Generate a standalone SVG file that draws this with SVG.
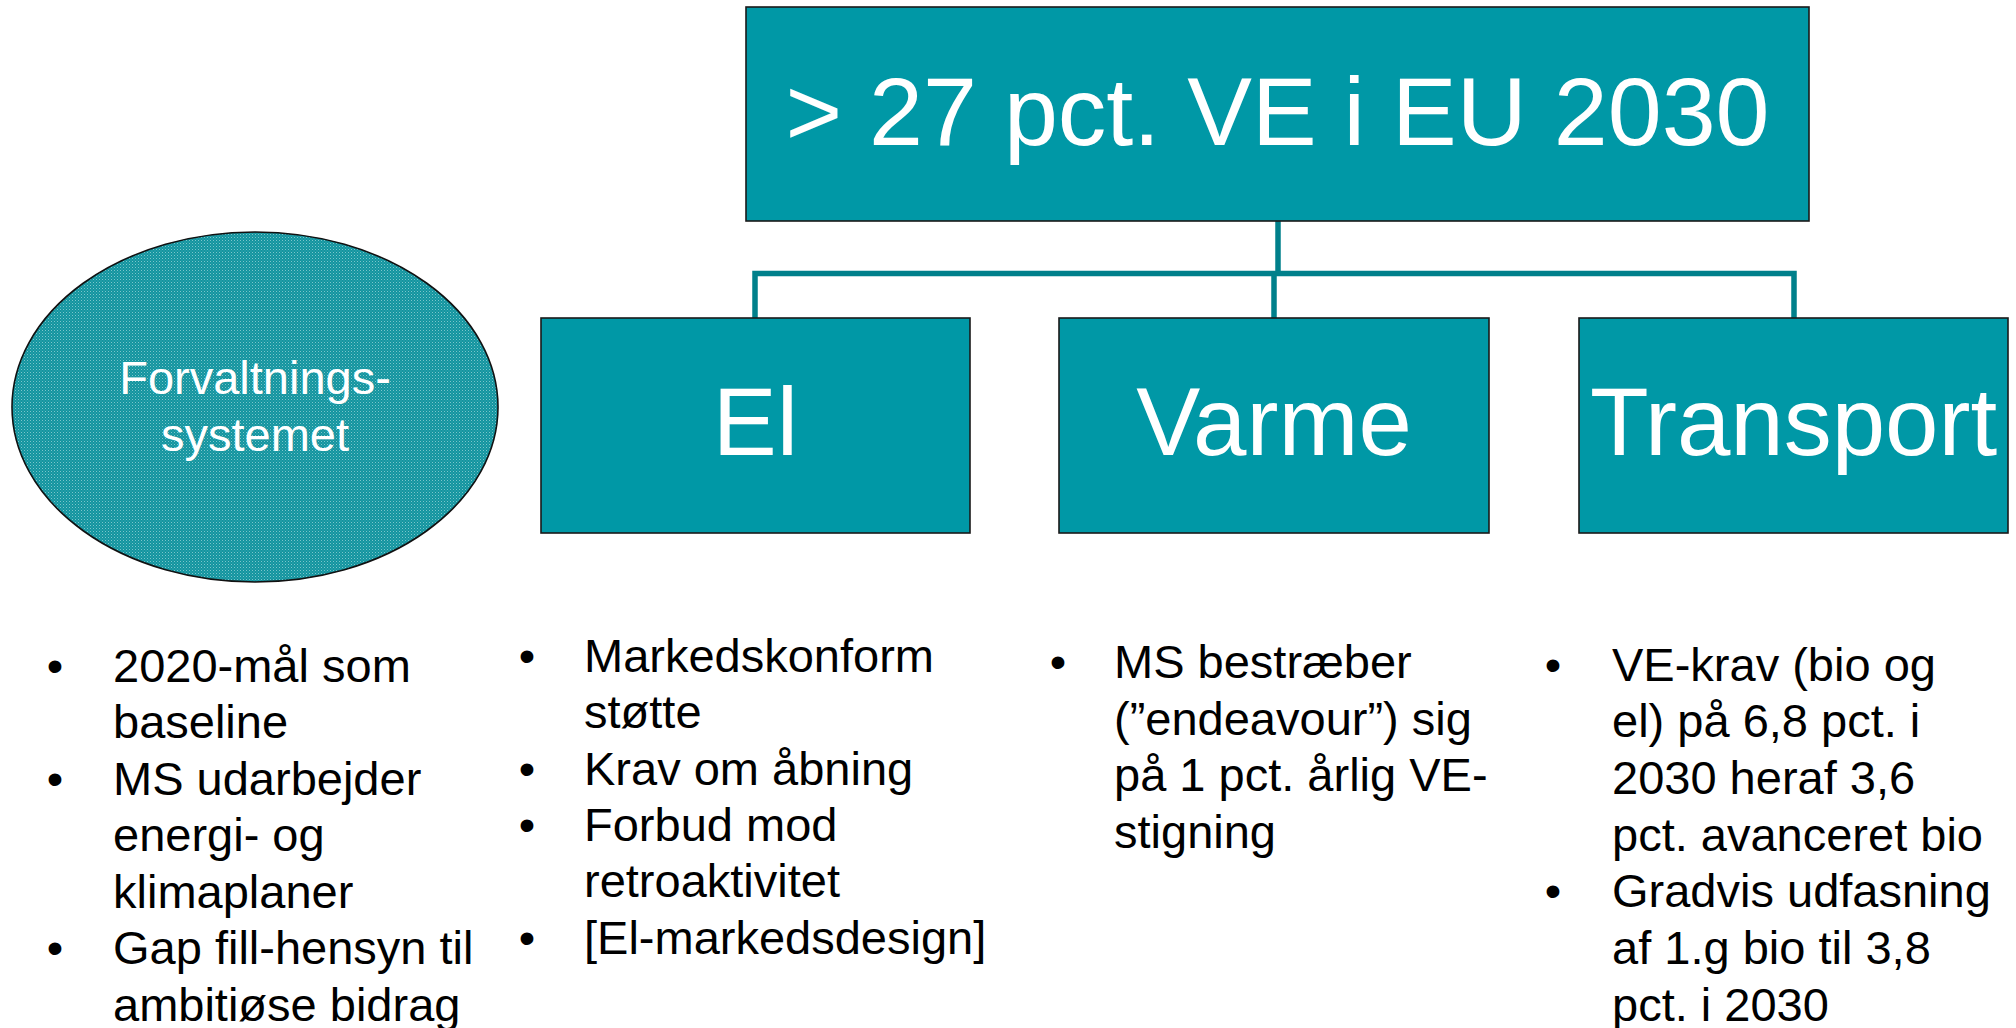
<svg xmlns="http://www.w3.org/2000/svg" width="2016" height="1028" viewBox="0 0 2016 1028">
<defs>
<pattern id="dots" width="3" height="3" patternUnits="userSpaceOnUse">
<rect width="3" height="3" fill="#12949f"/>
<rect x="0" y="0" width="1" height="1" fill="#7cc6cb"/>
<rect x="1.5" y="1.5" width="1" height="1" fill="#4cb0b8"/>
</pattern>
</defs>
<style>
.box{fill:#0098a6;stroke:#1a1a1a;stroke-width:1.6}
.conn{fill:none;stroke:#00808b;stroke-width:5.5}
.big{font-family:"Liberation Sans",Arial,sans-serif;fill:#ffffff;text-anchor:middle}
.bul{font-family:"Liberation Sans",Arial,sans-serif;font-size:47px;fill:#000000}
.dot{text-anchor:middle}
</style>
<rect width="2016" height="1028" fill="#ffffff"/>
<g id="connectors">
<path class="conn" d="M1278 221 V273.5"/>
<path class="conn" d="M755 318 V273.5 H1794 V318"/>
<path class="conn" d="M1274 273.5 V318"/>
</g>
<g id="root">
<rect class="box" x="746" y="7" width="1063" height="214"/>
<text class="big" x="1277.5" y="145" font-size="97">&gt; 27 pct. VE i EU 2030</text>
</g>
<g id="el">
<rect class="box" x="541" y="318" width="429" height="215"/>
<text class="big" x="755.5" y="455" font-size="96">El</text>
</g>
<g id="varme">
<rect class="box" x="1059" y="318" width="430" height="215"/>
<text class="big" x="1274" y="455" font-size="96">Varme</text>
</g>
<g id="transport">
<rect class="box" x="1579" y="318" width="429" height="215"/>
<text class="big" x="1793.5" y="455" font-size="96">Transport</text>
</g>
<g id="forvaltning">
<ellipse cx="255" cy="407" rx="243" ry="175" fill="url(#dots)" stroke="#111111" stroke-width="1.6"/>
<text class="big" x="255" font-size="47"><tspan x="255" y="394">Forvaltnings-</tspan><tspan x="255" y="451">systemet</tspan></text>
</g>
<g id="col1">
<text class="bul dot" x="55"><tspan x="55" y="682">•</tspan><tspan x="55" y="795">•</tspan><tspan x="55" y="964">•</tspan></text>
<text class="bul" x="113"><tspan x="113" y="682">2020-mål som</tspan><tspan x="113" y="738">baseline</tspan><tspan x="113" y="795">MS udarbejder</tspan><tspan x="113" y="851">energi- og</tspan><tspan x="113" y="908">klimaplaner</tspan><tspan x="113" y="964">Gap fill-hensyn til</tspan><tspan x="113" y="1021">ambitiøse bidrag</tspan></text>
</g>
<g id="col2">
<text class="bul dot" x="527"><tspan x="527" y="672">•</tspan><tspan x="527" y="785">•</tspan><tspan x="527" y="841">•</tspan><tspan x="527" y="954">•</tspan></text>
<text class="bul" x="584"><tspan x="584" y="672">Markedskonform</tspan><tspan x="584" y="728">støtte</tspan><tspan x="584" y="785">Krav om åbning</tspan><tspan x="584" y="841">Forbud mod</tspan><tspan x="584" y="897">retroaktivitet</tspan><tspan x="584" y="954">[El-markedsdesign]</tspan></text>
</g>
<g id="col3">
<text class="bul dot" x="1058"><tspan x="1058" y="678">•</tspan></text>
<text class="bul" x="1114"><tspan x="1114" y="678">MS bestræber</tspan><tspan x="1114" y="735">(”endeavour”) sig</tspan><tspan x="1114" y="791">på 1 pct. årlig VE-</tspan><tspan x="1114" y="848">stigning</tspan></text>
</g>
<g id="col4">
<text class="bul dot" x="1553"><tspan x="1553" y="681">•</tspan><tspan x="1553" y="907">•</tspan></text>
<text class="bul" x="1612"><tspan x="1612" y="681">VE-krav (bio og</tspan><tspan x="1612" y="737">el) på 6,8 pct. i</tspan><tspan x="1612" y="794">2030 heraf 3,6</tspan><tspan x="1612" y="851">pct. avanceret bio</tspan><tspan x="1612" y="907">Gradvis udfasning</tspan><tspan x="1612" y="964">af 1.g bio til 3,8</tspan><tspan x="1612" y="1021">pct. i 2030</tspan></text>
</g>
</svg>
